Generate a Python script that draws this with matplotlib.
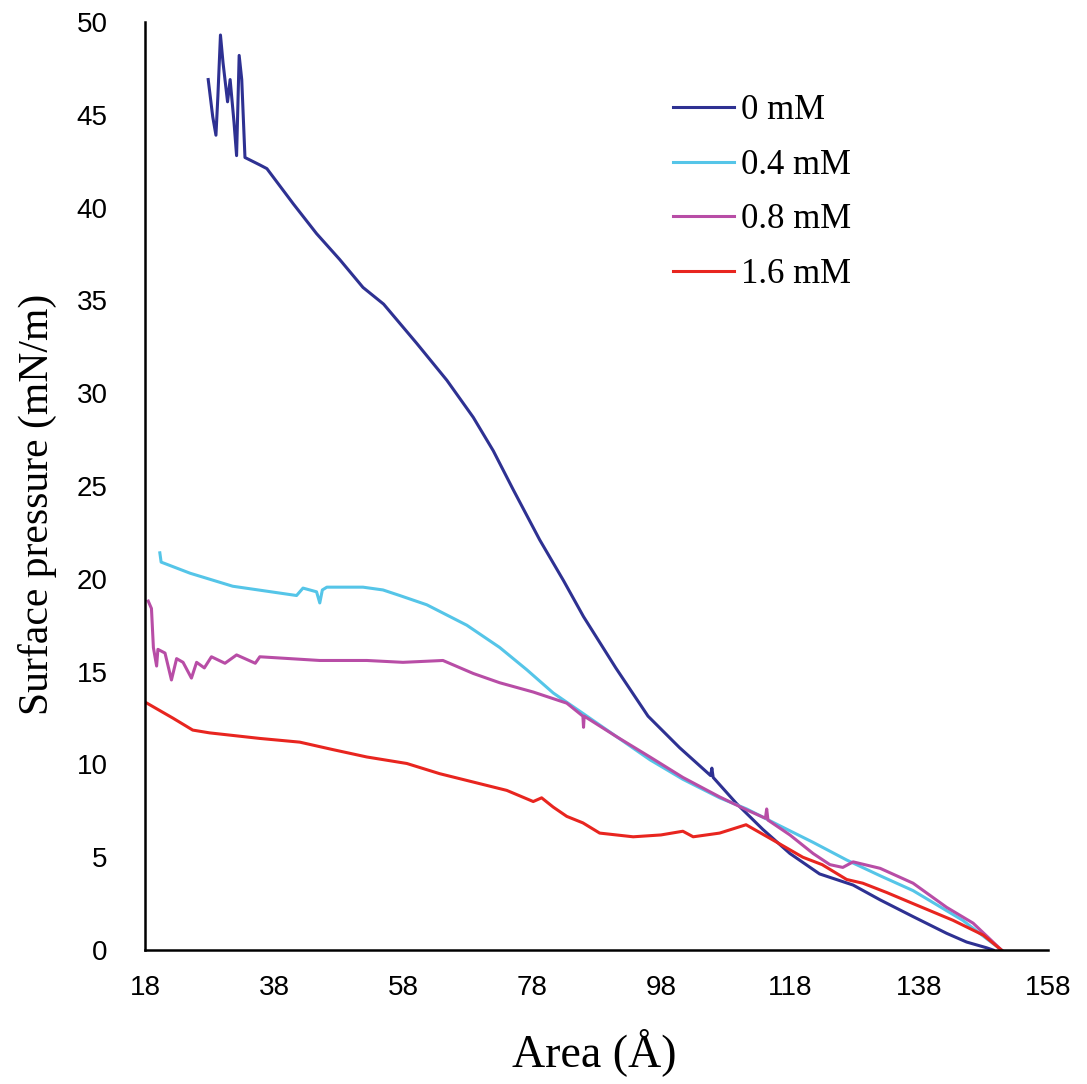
import numpy as np
import matplotlib
matplotlib.use("Agg")
import matplotlib.pyplot as plt

# surface pressure isotherms
area_0 = [27.8, 28.5, 29.0, 29.3, 29.7, 30.1, 30.8, 31.2, 31.8, 32.2, 32.6, 33.0, 33.5,
          35.8, 36.9, 41.0, 44.6, 48.2, 51.8, 55.0, 60.1, 64.8, 68.9, 72.0, 75.1, 79.2,
          82.9, 86.0, 91.0, 96.0, 100.9, 105.7, 105.9, 106.1, 109.7, 113.8, 118.0, 122.6,
          127.8, 132.0, 137.1, 142.3, 145.4, 148.5, 149.5]
pres_0 = [46.9, 44.9, 43.9, 46.0, 49.3, 47.8, 45.7, 46.9, 44.6, 42.8, 48.2, 46.9, 42.7,
          42.3, 42.1, 40.2, 38.6, 37.2, 35.7, 34.8, 32.7, 30.7, 28.7, 26.9, 24.8, 22.1,
          19.9, 17.96, 15.2, 12.6, 10.9, 9.4, 9.8, 9.3, 7.9, 6.5, 5.2, 4.1,
          3.5, 2.7, 1.8, 0.9, 0.43, 0.12, 0.0]

area_04 = [20.3, 20.5, 25.0, 31.6, 41.5, 42.5, 44.6, 45.1, 45.5, 46.2, 51.8, 54.9, 57.5,
           61.7, 67.9, 73.0, 77.2, 81.3, 85.9, 91.1, 96.3, 101.4, 107.1, 111.3, 116.4,
           121.6, 126.8, 132.0, 137.1, 144.8, 150.8]
pres_04 = [21.4, 20.9, 20.3, 19.6, 19.1, 19.5, 19.3, 18.7, 19.4, 19.55, 19.55, 19.4, 19.1,
           18.6, 17.5, 16.3, 15.1, 13.85, 12.75, 11.5, 10.25, 9.2, 8.2, 7.6, 6.7,
           5.8, 4.85, 4.0, 3.2, 1.6, 0.0]

area_08 = [18.5, 19.0, 19.3, 19.8, 20.0, 21.1, 22.1, 22.9, 23.9, 25.2, 26.0, 27.2, 28.3,
           30.4, 32.2, 35.1, 35.8, 45.1, 52.4, 58.0, 64.2, 68.9, 73.0, 78.2, 83.4, 85.9,
           86.0, 86.1, 91.1, 96.3, 101.4, 107.1, 111.3, 114.2, 114.4, 114.6, 118.0, 121.6,
           124.2, 126.2, 127.8, 132.0, 137.1, 142.3, 146.4, 150.8]
pres_08 = [18.8, 18.4, 16.3, 15.3, 16.2, 16.0, 14.55, 15.7, 15.5, 14.65, 15.5, 15.2, 15.8,
           15.45, 15.9, 15.45, 15.8, 15.6, 15.6, 15.5, 15.6, 14.9, 14.4, 13.9, 13.3, 12.6,
           12.0, 12.6, 11.5, 10.4, 9.3, 8.25, 7.55, 7.1, 7.6, 7.0, 6.2, 5.2,
           4.6, 4.45, 4.75, 4.4, 3.6, 2.3, 1.45, 0.0]

area_16 = [18.3, 22.3, 25.4, 28.0, 35.8, 42.0, 47.1, 52.4, 58.6, 63.7, 68.9, 74.1, 78.2,
           79.5, 81.3, 83.4, 85.9, 88.5, 93.7, 98.0, 101.4, 103.0, 107.1, 111.2, 115.0,
           120.0, 123.0, 126.8, 129.3, 133.0, 137.1, 143.3, 148.0, 150.8]
pres_16 = [13.3, 12.5, 11.85, 11.7, 11.4, 11.2, 10.8, 10.4, 10.05, 9.5, 9.05, 8.6, 8.0,
           8.2, 7.7, 7.2, 6.85, 6.3, 6.1, 6.2, 6.4, 6.1, 6.3, 6.75, 6.0,
           5.0, 4.6, 3.8, 3.6, 3.1, 2.5, 1.6, 0.8, 0.0]

labels = ["0 mM", "0.4 mM", "0.8 mM", "1.6 mM"]
colors = ["#2E3192", "#55C5E8", "#B84DA6", "#E8251F"]
x_ticks = [18, 38, 58, 78, 98, 118, 138, 158]
y_ticks = [0, 5, 10, 15, 20, 25, 30, 35, 40, 45, 50]

fig = plt.figure(figsize=(10.87, 10.84), dpi=100)
ax = fig.add_axes([0.1334, 0.1236, 0.8306, 0.8561])

series = [(area_0, pres_0), (area_04, pres_04), (area_08, pres_08), (area_16, pres_16)]
for (xs, ys), lab, c in zip(series, labels, colors):
    ax.plot(xs, ys, color=c, lw=2.2, label=lab)

ax.set_xlim(18, 158)
ax.set_ylim(0, 50)
ax.set_xticks(x_ticks)
ax.set_yticks(y_ticks)
ax.tick_params(length=0, labelsize=20)
ax.tick_params(axis="y", pad=27)
ax.tick_params(axis="x", pad=18)
for t in ax.get_xticklabels() + ax.get_yticklabels():
    t.set_family("Liberation Sans")

for s in ["top", "right"]:
    ax.spines[s].set_visible(False)
for s in ["left", "bottom"]:
    ax.spines[s].set_linewidth(1.8)
    ax.spines[s].set_color("black")

ax.set_xlabel("Area (Å)", fontsize=33, family="Liberation Serif")
ax.set_ylabel("Surface pressure (mN/m)", fontsize=30, family="Liberation Serif")
ax.xaxis.set_label_coords(0.498, -0.084)
ax.yaxis.set_label_coords(-0.098, 0.48)

fig.legend(loc="upper left", bbox_to_anchor=(0.603, 0.929), frameon=False,
           prop={"family": "Liberation Serif", "size": 25},
           handlelength=1.75, handletextpad=0.2, labelspacing=0.62, borderpad=0)

fig.savefig("out.png", dpi=100)
